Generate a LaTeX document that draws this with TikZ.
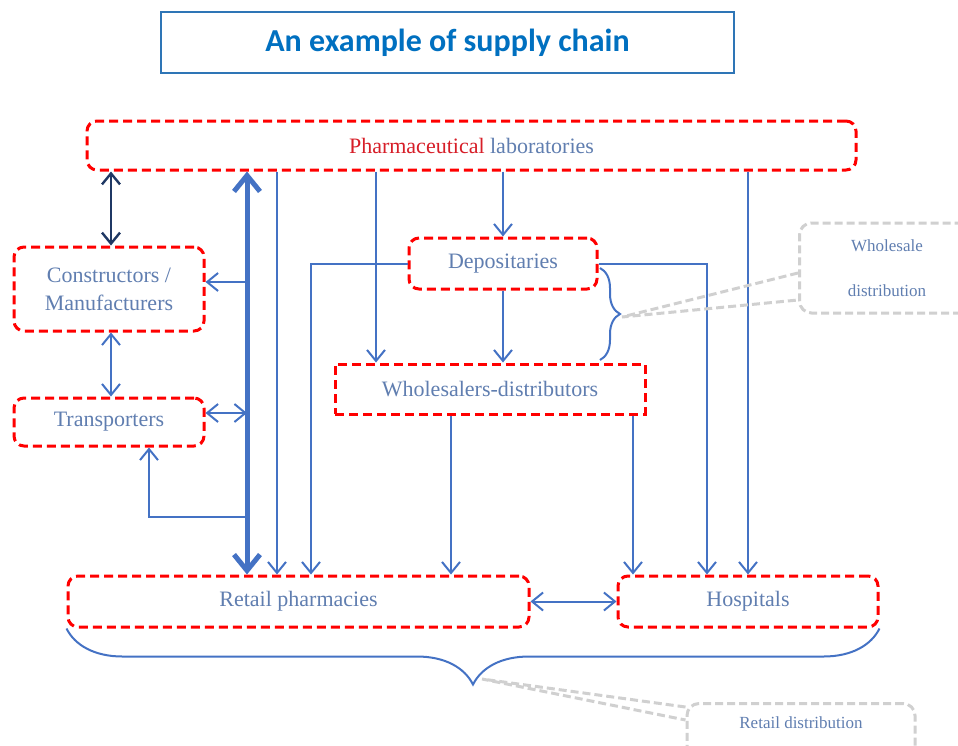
\documentclass[tikz,border=0pt]{standalone}
\usepackage{fontspec}
\setmainfont{Liberation Serif}
\newfontfamily\titlefont{Carlito}
\usepackage{xcolor}
\usepackage{tikz}
\usetikzlibrary{calc, positioning, arrows.meta, decorations.pathreplacing}
\definecolor{linkblue}{RGB}{68,114,196}
\definecolor{textblue}{RGB}{96,126,176}
\definecolor{navyblue}{RGB}{31,56,100}
\definecolor{titleblue}{RGB}{0,112,192}
\definecolor{titleframe}{RGB}{46,117,182}
\definecolor{notegray}{RGB}{208,208,208}
\definecolor{labred}{RGB}{215,30,40}
\tikzset{
    headline/.style={rectangle, draw=titleframe, line width=1pt, fill=white, minimum width=286.5pt, minimum height=30.5pt, text=titleblue, font=\titlefont\bfseries\fontsize{16}{19}\selectfont},
    party/.style={rectangle, rounded corners=5pt, draw=red, line width=1.5pt, dash pattern=on 4.5pt off 2.5pt, fill=white, align=center, text=textblue, inner sep=0pt, font=\fontsize{11}{14}\selectfont},
    flatparty/.style={party, rounded corners=0pt},
    note/.style={rectangle, rounded corners=6pt, draw=notegray, line width=1.5pt, dash pattern=on 4pt off 2pt, align=center, text=textblue, inner sep=0pt, font=\fontsize{8.5}{10.5}\selectfont},
    noteedge/.style={draw=notegray, line width=1.5pt, dash pattern=on 4pt off 2pt},
    link/.style={-{Straight Barb[length=5.5pt,width=9pt]}, draw=linkblue, line width=1pt},
    twoway/.style={{Straight Barb[length=5.5pt,width=9pt]}-{Straight Barb[length=5.5pt,width=9pt]}, draw=linkblue, line width=1pt},
    bus/.style={{Straight Barb[length=8pt,width=13pt]}-{Straight Barb[length=8pt,width=13pt]}, draw=linkblue, line width=2.5pt},
    bracket/.style={draw=linkblue, line width=1pt, decorate}
}

\begin{document}
\begin{tikzpicture}[x=0.5pt, y=-0.5pt]
        \useasboundingbox (0,0) rectangle (958,745);

        % Title
        \node[headline] (title) at (447.5,42.5) {An example of supply chain};

        % Actors
        \node[party, minimum width=384.5pt, minimum height=24.5pt] (lab) at (471.5,145.5) {\textcolor{labred}{Pharmaceutical} laboratories};
        \node[party, minimum width=95pt, minimum height=42pt] (cons) at (109,289) {Constructors /\\Manufacturers};
        \node[party, minimum width=95pt, minimum height=24pt] (trans) at (109,422) {Transporters};
        \node[party, minimum width=94pt, minimum height=25.5pt] (dep) at (503,263.5) {Depositaries};
        \node[flatparty, minimum width=155pt, minimum height=25pt] (whole) at (490,389) {Wholesalers-distributors};
        \node[party, minimum width=230.5pt, minimum height=25.5pt] (retail) at (298.5,601.5) {Retail pharmacies};
        \node[party, minimum width=130pt, minimum height=25.5pt] (hosp) at (748,601.5) {Hospitals};

        % Notes
        \node[note, minimum width=87.5pt, minimum height=45pt] (wsnote) at (887,268) {Wholesale\\[12pt]distribution};
        \node[note, anchor=north, minimum width=114pt, text height=6.5pt, text depth=20pt, inner ysep=6pt] (rtnote) at (801,702) {Retail distribution};

        % Column helpers
        \coordinate (busx) at (247,0);
        \coordinate (xa) at (277,0);
        \coordinate (xb) at (311,0);
        \coordinate (xc) at (376,0);
        \coordinate (xd) at (451,0);
        \coordinate (xe) at (633,0);
        \coordinate (xf) at (707,0);
        \coordinate (tap) at (247,517);
        \coordinate (consin) at ($(cons.east)+(0,-7)$);
        \coordinate (transin) at ($(trans.east)+(0,-9)$);
        \coordinate (transret) at ($(trans.south)+(40,0)$);

        % Left side
        \draw[twoway, navyblue, line width=1.2pt] ([xshift=1pt]cons.north |- lab.south) -- ([xshift=1pt]cons.north);
        \draw[twoway] ([xshift=1pt]cons.south) -- ([xshift=1pt]trans.north);
        \draw[bus] (busx |- lab.south) -- (busx |- retail.north);
        \draw[link] (consin -| busx) -- (consin);
        \draw[twoway] (transin) -- (transin -| busx);
        \draw[link] (tap) -| (transret);

        % Flows
        \draw[link] (xa |- lab.south) -- (xa |- retail.north);
        \draw[link] (dep.west) -| (xb |- retail.north);
        \draw[link] (xc |- lab.south) -- (xc |- whole.north);
        \draw[link] (dep.north |- lab.south) -- (dep.north);
        \draw[link] (dep.south) -- (dep.south |- whole.north);
        \draw[link] (xd |- whole.south) -- (xd |- retail.north);
        \draw[link] (xe |- whole.south) -- (xe |- hosp.north);
        \draw[link] (dep.east) -| (xf |- hosp.north);
        \draw[link] (hosp.north |- lab.south) -- (hosp.north);
        \draw[twoway] (retail.east) -- (hosp.west);

        % Braces
        \draw[bracket, decoration={brace, amplitude=10pt}] (600,268) -- (600,360);
        \draw[bracket, decoration={brace, amplitude=28pt}] (hosp.south east) -- (retail.south west);

        % Callout edges
        \draw[noteedge] ($(wsnote.west)+(0,5)$) -- (622,317) -- ($(wsnote.west)+(0,32)$);
        \draw[noteedge] ($(rtnote.north west)+(0,5)$) -- (482,679) -- ($(rtnote.north west)+(0,18)$);
    \end{tikzpicture}
\end{document}
